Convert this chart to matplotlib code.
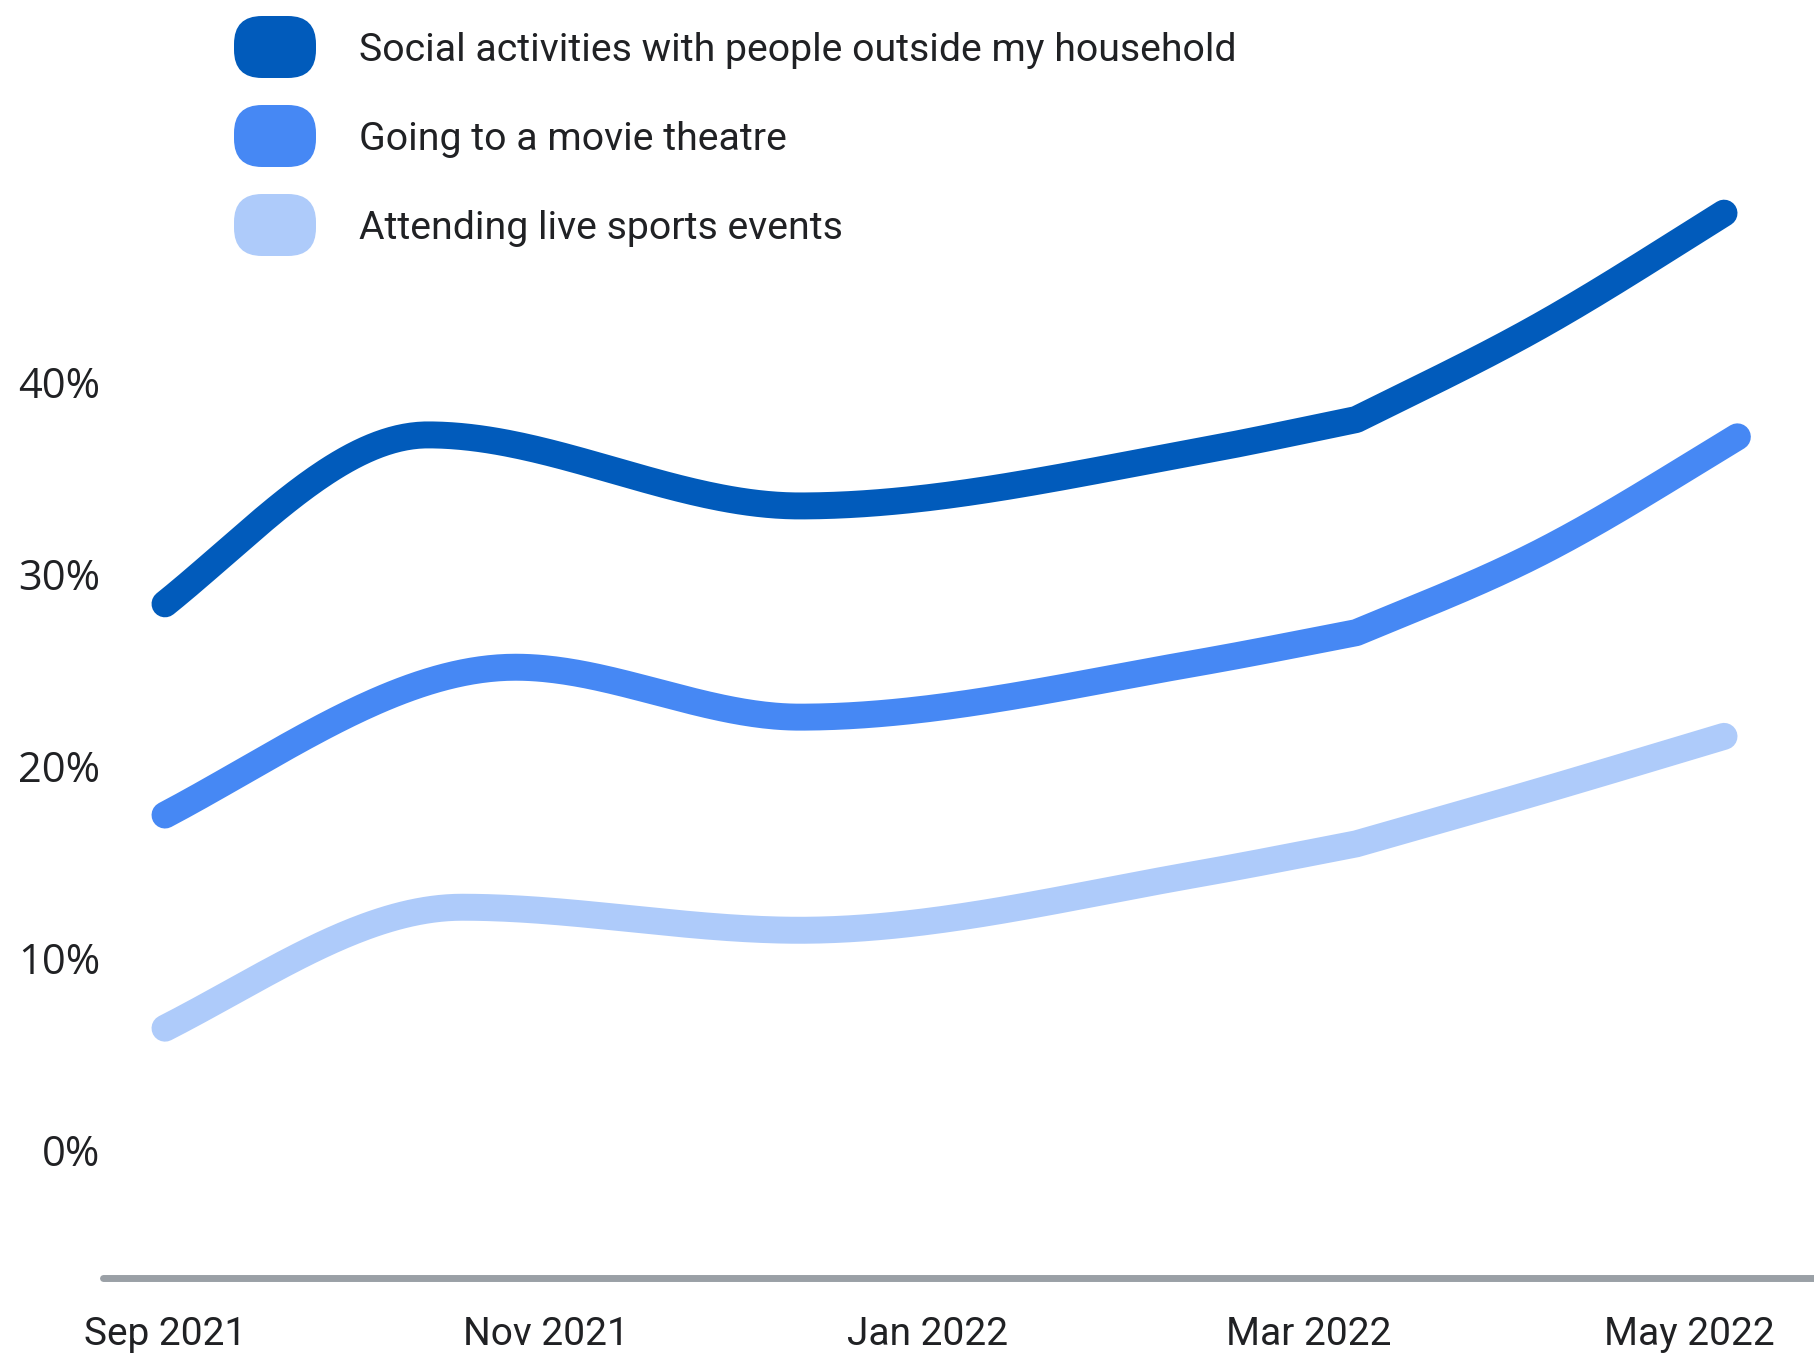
import numpy as np
import matplotlib
matplotlib.use("Agg")
import matplotlib.pyplot as plt
from matplotlib.patches import FancyBboxPatch
from matplotlib import transforms

# ---------------- data ----------------
series_names = [
    "Social activities with people outside my household",
    "Going to a movie theatre",
    "Attending live sports events",
]
colors = ["#015BBB", "#4688F4", "#AECBFA"]

# x = months after 1 Sep 2021 (survey waves), y = percent
social_x = [0.0, 1.38, 3.33, 5.4, 6.25, 7.2, 8.18]
social_y = [28.5, 37.3, 33.6, 36.4, 38.1, 42.9, 48.85]
movie_x = [0.0, 1.84, 3.33, 5.4, 6.25, 7.2, 8.25]
movie_y = [17.5, 25.2, 22.6, 25.4, 27.0, 31.1, 37.2]
sports_x = [0.0, 1.56, 3.33, 5.4, 6.25, 7.2, 8.18]
sports_y = [6.4, 12.7, 11.5, 14.4, 16.0, 18.7, 21.6]
corner_index = 4  # the March wave shows a visible corner in the line

tick_months = [0, 2, 4, 6, 8]
tick_labels = ["Sep 2021", "Nov 2021", "Jan 2022", "Mar 2022", "May 2022"]
y_ticks = [0, 10, 20, 30, 40]
y_tick_labels = ["0%", "10%", "20%", "30%", "40%"]


def monotone_piece(x, y, n=80, last=True):
    """Monotone cubic (curveMonotoneX-like) through the given points."""
    x = np.asarray(x, float)
    y = np.asarray(y, float)
    h = np.diff(x)
    s = np.diff(y) / h
    m = np.zeros_like(x)
    for i in range(1, len(x) - 1):
        h0, h1 = h[i - 1], h[i]
        s0, s1 = s[i - 1], s[i]
        p = (s0 * h1 + s1 * h0) / (h0 + h1)
        m[i] = (np.sign(s0) + np.sign(s1)) * min(abs(s0), abs(s1), 0.5 * abs(p))
    if len(x) > 2:
        # softened end tangents
        m[0] = 0.5 * (s[0] + (3 * s[0] - m[1]) / 2)
        m[-1] = 0.5 * (s[-1] + (3 * s[-1] - m[-2]) / 2)
    else:
        m[:] = s[0]
    xs, ys = [], []
    for i in range(len(x) - 1):
        t = np.linspace(0, 1, n, endpoint=(last and i == len(x) - 2))
        h00 = 2 * t**3 - 3 * t**2 + 1
        h10 = t**3 - 2 * t**2 + t
        h01 = -2 * t**3 + 3 * t**2
        h11 = t**3 - t**2
        xs.append(x[i] + t * h[i])
        ys.append(h00 * y[i] + h10 * h[i] * m[i] + h01 * y[i + 1] + h11 * h[i] * m[i + 1])
    return np.concatenate(xs), np.concatenate(ys)


def smooth_line(x, y, corner):
    x1, y1 = monotone_piece(x[:corner + 1], y[:corner + 1], last=False)
    x2, y2 = monotone_piece(x[corner:], y[corner:], last=True)
    return np.concatenate([x1, x2]), np.concatenate([y1, y2])


# ---------------- figure ----------------
W, H = 1814, 1355
fig = plt.figure(figsize=(W / 100, H / 100), dpi=100)
fig.patch.set_facecolor("white")

ax_left, ax_bottom_px = 100, 1278
ax = fig.add_axes([ax_left / W, (H - ax_bottom_px) / H, (W - ax_left) / W, ax_bottom_px / H])
ax.set_xlim(-0.341, 8.652)
ax.set_ylim(-6.61, 59.95)
ax.axis("off")

# overlay in pixel coordinates (origin top-left)
ov = fig.add_axes([0, 0, 1, 1], zorder=5)
ov.set_xlim(0, W)
ov.set_ylim(H, 0)
ov.axis("off")
ov.patch.set_alpha(0)

# baseline
ax.plot([-0.323, 9.5], [-6.61, -6.61], color="#9AA0A6", lw=5.0,
        solid_capstyle="round", clip_on=False, zorder=1)

# lines
all_x = [social_x, movie_x, sports_x]
all_y = [social_y, movie_y, sports_y]
for xs, ys, c in zip(all_x, all_y, colors):
    cx, cy = smooth_line(xs, ys, corner_index)
    ax.plot(cx, cy, color=c, lw=19.4, solid_capstyle="round",
            solid_joinstyle="round", clip_on=False, zorder=3)

text_color = "#202124"

# x tick labels
tx = transforms.blended_transform_factory(ax.transData, ov.transData)
for m, lab in zip(tick_months, tick_labels):
    ov.text(m, 1345, lab, transform=tx, ha="center", va="baseline",
            fontsize=28, family="Roboto", color=text_color)

# y tick labels
ty = transforms.blended_transform_factory(ov.transData, ax.transData)
ty = transforms.offset_copy(ty, fig=fig, y=-14.5, units="dots")
for v, lab in zip(y_ticks, y_tick_labels):
    ov.text(100, v, lab, transform=ty, ha="right", va="baseline",
            fontsize=30, family="Open Sans", color=text_color)

# legend
legend_centers = [47, 136, 225]
for name, c, cy in zip(series_names, colors, legend_centers):
    box = FancyBboxPatch((234, cy - 31), 82, 62,
                         boxstyle="round,pad=0,rounding_size=28",
                         facecolor=c, edgecolor="none")
    ov.add_patch(box)
    ov.text(359, cy + 14, name, ha="left", va="baseline",
            fontsize=28.3, family="Roboto", color=text_color)

fig.savefig("out.png", dpi=100, facecolor="white")
